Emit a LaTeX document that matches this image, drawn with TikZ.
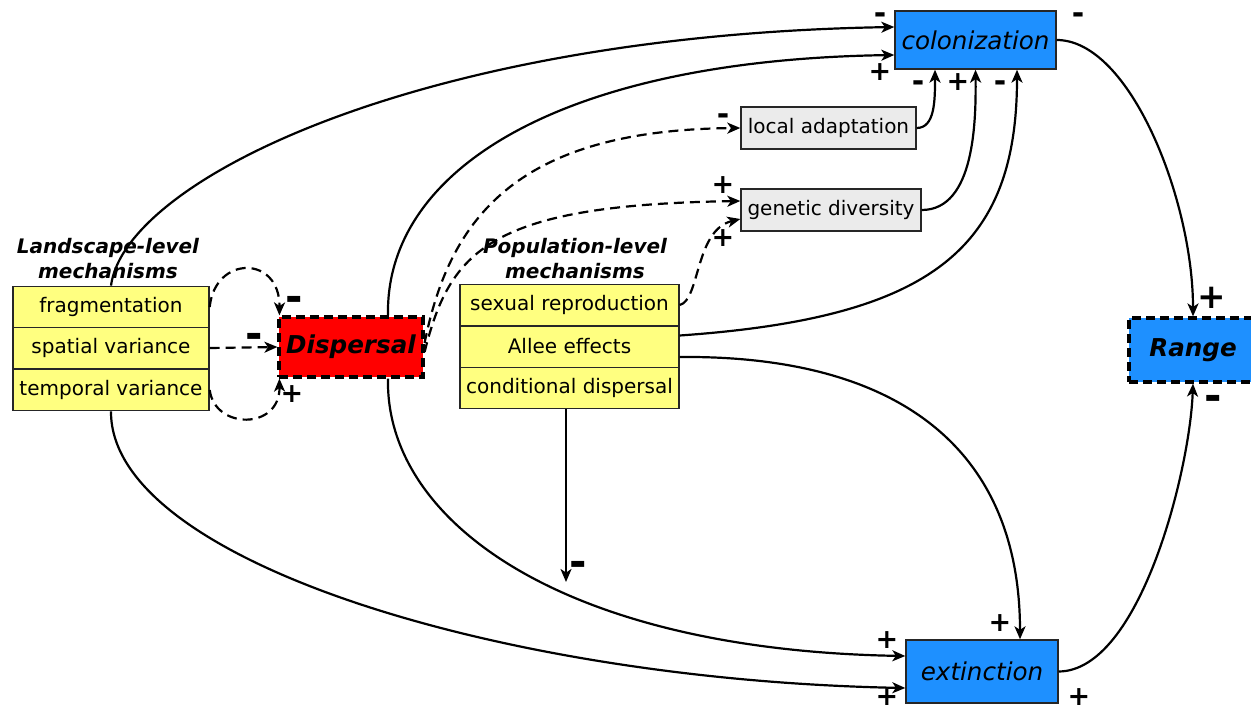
\documentclass[tikz,border=0pt]{standalone}
\usepackage{fontspec}
\setmainfont{DejaVu Sans}
\usetikzlibrary{arrows.meta}
\definecolor{mechyellow}{HTML}{FFFF80}
\definecolor{boxgray}{HTML}{EBEBEB}
\definecolor{procblue}{HTML}{1E90FF}

\begin{document}
\begin{tikzpicture}[x=0.5pt,y=-0.5pt,
    mechrow/.style={draw=black!85,line width=0.7pt,fill=mechyellow,minimum width=#1,minimum height=20.7pt,inner sep=0pt,font=\fontsize{10}{12}\selectfont},
    graybox/.style={draw=black!85,line width=0.7pt,fill=boxgray,minimum width=#1,minimum height=21pt,inner sep=0pt,font=\fontsize{10}{12}\selectfont},
    procbox/.style={draw=black!85,line width=0.7pt,fill=procblue,inner sep=0pt,font=\itshape\fontsize{12.3}{14}\selectfont},
    keybox/.style={draw=black,line width=1.6pt,dash pattern=on 4.5pt off 2.5pt,inner sep=0pt,font=\bfseries\itshape\fontsize{12.3}{14}\selectfont},
    heading/.style={align=center,inner sep=0pt,font=\bfseries\itshape\fontsize{10}{12.5}\selectfont},
    link/.style={line width=1.1pt,-{Stealth[length=6.5pt,width=5.5pt,inset=1.8pt]}},
    dashlink/.style={link,dash pattern=on 5pt off 3pt},
    possign/.style={inner sep=0pt,font=\bfseries\fontsize{13.5}{14}\selectfont},
    negsign/.style={inner sep=0pt,font=\bfseries\fontsize{15}{16}\selectfont},
    bigpossign/.style={inner sep=0pt,font=\bfseries\fontsize{17}{18}\selectfont},
    bignegsign/.style={inner sep=0pt,font=\bfseries\fontsize{21}{22}\selectfont}]

\useasboundingbox (0,0) rectangle (1251,711);

% landscape-level mechanisms
\node[heading] (landtitle) at (108,259) {Landscape-level\\mechanisms};
\node[mechrow=98pt] (frag) at (111,307) {fragmentation};
\node[mechrow=98pt] (spat) at (111,348) {spatial variance};
\node[mechrow=98pt] (temp) at (111,390) {temporal variance};

% population-level mechanisms
\node[heading] (poptitle) at (575,259) {Population-level\\mechanisms};
\node[mechrow=109.5pt] (sexrep) at (569.5,305) {sexual reproduction};
\node[mechrow=109.5pt] (allee) at (569.5,346.5) {Allee effects};
\node[mechrow=109.5pt] (conddisp) at (569.5,388) {conditional dispersal};

% processes
\node[keybox,fill=red,minimum width=72pt,minimum height=30pt] (disp) at (351,347) {Dispersal};
\node[graybox=87.5pt] (locad) at (828.5,128) {local adaptation};
\node[graybox=90pt] (gendiv) at (831,210) {genetic diversity};
\node[procbox,minimum width=80.5pt,minimum height=29pt] (colon) at (975.5,40) {colonization};
\node[procbox,minimum width=76pt,minimum height=31.5pt] (extinct) at (982,671.5) {extinction};
\node[keybox,fill=procblue,minimum width=64pt,minimum height=32pt] (range) at (1193,350) {Range};
\coordinate (condend) at (566,582);

% landscape to dispersal
\draw[dashlink] (frag.east) .. controls (215,255) and (280,255) .. ([xshift=1pt]disp.north west);
\draw[dashlink] (spat.east) -- (disp.west);
\draw[dashlink] (temp.east) .. controls (215,430) and (280,430) .. ([xshift=1pt]disp.south west);

% to colonization
\draw[link] (frag.north) .. controls (125,180) and (420,35) .. ([yshift=6.5pt]colon.west);
\draw[link] ([xshift=18.5pt]disp.north) .. controls (385,170) and (560,60) .. ([yshift=-7.5pt]colon.west);
\draw[link] (locad.east) .. controls (935,128) and (935,100) .. ([xshift=-20.25pt]colon.south);
\draw[link] (gendiv.east) .. controls (975,210) and (976,120) .. (colon.south);
\draw[link] ([yshift=5.5pt]allee.east) .. controls (930,318) and (1017,250) .. ([xshift=20.75pt]colon.south);

% to local adaptation and genetic diversity
\draw[dashlink] ([yshift=2pt]disp.east) .. controls (450,215) and (520,130) .. (locad.west);
\draw[dashlink] ([yshift=-2.5pt]disp.east) .. controls (450,250) and (490,205) .. ([yshift=4.5pt]gendiv.west);
\draw[dashlink] (sexrep.east) .. controls (700,300) and (695,230) .. ([yshift=-4.5pt]gendiv.west);

% to extinction
\draw[link] (temp.south) .. controls (110,560) and (500,680) .. ([yshift=-8.25pt]extinct.west);
\draw[link] ([xshift=18.5pt]disp.south) .. controls (385,520) and (560,650) .. ([yshift=7.75pt]extinct.west);
\draw[link] ([yshift=-5.25pt]allee.east) .. controls (900,355) and (1020,450) .. ([xshift=19pt]extinct.north);
\draw[link] (conddisp.south -| condend) -- (condend);

% to range
\draw[link] (colon.east) .. controls (1130,40) and (1193,200) .. (range.north);
\draw[link] (extinct.east) .. controls (1140,671) and (1190,470) .. (range.south);

% signs
\node[negsign] (sgncolfrag) at (880,18) {-};
\node[possign] (sgncoldisp) at (880,72) {+};
\node[negsign] (sgncolout) at (1078,18) {-};
\node[negsign] (sgncolloc) at (918,86) {-};
\node[possign] (sgncolgen) at (958,82) {+};
\node[negsign] (sgncolall) at (1000,86) {-};
\node[negsign] (sgnloc) at (723,119) {-};
\node[possign] (sgngendisp) at (723,185) {+};
\node[possign] (sgngensex) at (723,238) {+};
\node[bignegsign] (sgndispfrag) at (294,304) {-};
\node[bignegsign] (sgndispspat) at (254,341) {-};
\node[possign] (sgndisptemp) at (292,394) {+};
\node[bigpossign] (sgnrangecol) at (1212,298) {+};
\node[bignegsign] (sgnrangeext) at (1213,403) {-};
\node[bignegsign] (sgncond) at (578,569) {-};
\node[possign] (sgnextdisp) at (887,640) {+};
\node[possign] (sgnextall) at (1000,623) {+};
\node[possign] (sgnexttemp) at (887,697) {+};
\node[possign] (sgnextout) at (1079,697) {+};
\end{tikzpicture}
\end{document}
